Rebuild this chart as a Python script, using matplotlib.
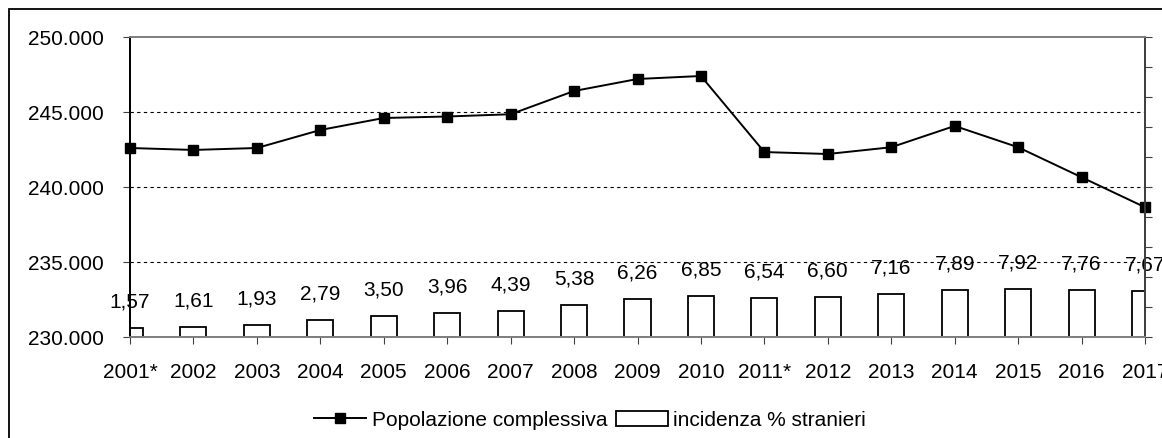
import numpy as np
import matplotlib
matplotlib.use("Agg")
import matplotlib.pyplot as plt
from matplotlib.patches import Rectangle, Patch
from matplotlib.lines import Line2D
from matplotlib.ticker import FuncFormatter, MultipleLocator

plt.rcParams['font.family'] = ['Liberation Sans', 'DejaVu Sans']

# data
years = ['2001*', '2002', '2003', '2004', '2005', '2006', '2007', '2008', '2009',
         '2010', '2011*', '2012', '2013', '2014', '2015', '2016', '2017']
popolazione = [242600, 242470, 242600, 243800, 244600, 244700, 244850, 246400, 247200,
               247400, 242330, 242200, 242650, 244070, 242650, 240650, 238650]
incidenza = [1.57, 1.61, 1.93, 2.79, 3.50, 3.96, 4.39, 5.38, 6.26,
             6.85, 6.54, 6.60, 7.16, 7.89, 7.92, 7.76, 7.67]

FS = 15
W, H = 1162, 439
fig = plt.figure(figsize=(W / 100, H / 100), dpi=100)

# outer chart border (cropped at right/bottom in the original)
fig.patches.append(Rectangle((9 / W, -0.05), 1.2, 1 - 10 / H + 0.05,
                             transform=fig.transFigure, fill=False,
                             edgecolor='black', linewidth=1.3))

ax = fig.add_axes([130 / W, 1 - 338 / H, (1145 - 130) / W, 300 / H])
ax2 = ax.twinx()
x = np.arange(len(years))

# bars on secondary axis (0-50)
ax2.bar(x, incidenza, width=0.41, color='white', edgecolor='black', linewidth=1.3)
for xi, v in zip(x, incidenza):
    ax2.annotate(f"{v:.2f}".replace('.', ','), (xi, v), xytext=(0, 27),
                 textcoords='offset pixels', ha='center', va='center', fontsize=FS)
ax2.set_ylim(0, 50)
ax2.yaxis.set_major_locator(MultipleLocator(5))
ax2.tick_params(axis='y', direction='out', length=5, labelright=False, color='#404040')

# line on primary axis
ax.set_zorder(ax2.get_zorder() + 1)
ax.patch.set_visible(False)
ax.plot(x, popolazione, color='black', linewidth=1.4, marker='s', markersize=7,
        markerfacecolor='black', markeredgecolor='black', clip_on=False)
ax.set_ylim(230000, 250000)
ax.yaxis.set_major_locator(MultipleLocator(5000))
ax.yaxis.set_major_formatter(FuncFormatter(lambda v, p: f"{int(v):,}".replace(',', '.')))
for yv in [235000, 240000, 245000]:
    ax.axhline(yv, color='black', linestyle=(0, (3, 3)), linewidth=0.8)
ax.set_xlim(0, len(years) - 1)
ax.set_xticks(x)
ax.set_xticklabels(years)
ax.tick_params(axis='both', labelsize=FS, length=5, color='#404040')
ax.tick_params(axis='x', pad=13)
ax.tick_params(axis='y', pad=14)

for a in (ax, ax2):
    a.spines['top'].set_color('#808080')
    a.spines['bottom'].set_color('#808080')
    a.spines['left'].set_color('black')
    a.spines['right'].set_color('#404040')
    for s in a.spines.values():
        s.set_linewidth(1.3)

handles = [Line2D([0], [0], color='black', linewidth=1.4, marker='s', markersize=7),
           Patch(facecolor='white', edgecolor='black', linewidth=1.3)]
fig.legend(handles, ['Popolazione complessiva', 'incidenza % stranieri'],
           loc='center', bbox_to_anchor=(590 / W, 18 / H), ncol=2, frameon=False,
           fontsize=FS, handlelength=2.5, handletextpad=0.25, columnspacing=0.4)

fig.savefig('out.png', dpi=100)
